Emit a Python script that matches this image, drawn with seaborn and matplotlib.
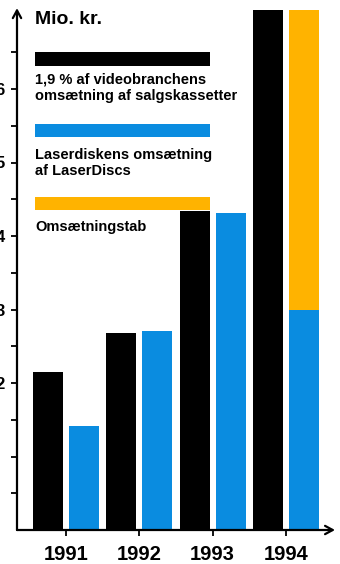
import matplotlib
matplotlib.use("Agg")
import matplotlib.pyplot as plt
import matplotlib.patches as mpatches
import matplotlib.transforms as mtransforms
import numpy as np
import pandas as pd
import seaborn as sns

# data (Mio. kr.)
years = ["1991", "1992", "1993", "1994"]
video_share = [2.15, 2.68, 4.34, 7.5]   # 1994 runs off the top
laserdisc = [1.41, 2.71, 4.31, 2.99]
lost_revenue = [0, 0, 0, 4.5]          # stacked on top of laserdisc, off the top too
labels = [
    "1,9 % af videobranchens\nomsætning af salgskassetter",
    "Laserdiskens omsætning\naf LaserDiscs",
    "Omsætningstab",
]
unit = "Mio. kr."
tick_labels = [2, 3, 4, 5, 6]

BLACK = "#000000"
BLUE = "#0a8ce0"
ORANGE = "#ffb300"
W, H = 340, 564


def get_df(second: list) -> pd.DataFrame:
    return pd.DataFrame({
        "year": years * 2,
        "value": video_share + second,
        "series": ["video"] * len(years) + ["laser"] * len(years),
    })


def main() -> None:
    sns.set_style("white")
    plt.rcParams["font.family"] = ["Liberation Sans", "DejaVu Sans"]
    plt.rcParams["font.weight"] = "bold"
    for k in ["text.color", "axes.labelcolor", "xtick.color", "ytick.color"]:
        plt.rcParams[k] = "black"

    fig = plt.figure(figsize=(W / 100, H / 100), dpi=100)
    ax = fig.add_axes([17 / W, 1 - 530 / H, 318 / W, 520 / H])

    stacked = [a + b for a, b in zip(laserdisc, lost_revenue)]
    bar_kw = dict(x="year", y="value", hue="series", width=0.98, gap=0.16,
                  errorbar=None, saturation=1, legend=False, ax=ax,
                  linewidth=0)
    sns.barplot(data=get_df(stacked), palette=[BLACK, ORANGE], **bar_kw)
    sns.barplot(data=get_df(laserdisc), palette=[BLACK, BLUE], **bar_kw)

    ax.set_xlim(-0.67, 3.67)
    ax.set_ylim(0, 520 / 73.5)
    ax.set_xlabel("")
    ax.set_ylabel("")
    for s in ax.spines.values():
        s.set_visible(False)

    yt = np.arange(0.5, 7.0, 0.5)
    ax.set_yticks(yt)
    ax.set_yticklabels([str(int(v)) if v in tick_labels else "" for v in yt])
    ax.tick_params(axis="y", direction="out", length=4.5, width=1.3,
                   pad=4.5, labelsize=12, left=True)
    ax.tick_params(axis="x", direction="out", length=4, width=1.3,
                   pad=7, labelsize=14.5, bottom=True)
    for t in ax.get_xticklabels() + ax.get_yticklabels():
        t.set_fontweight("bold")

    # axis lines with open arrow heads
    trans = mtransforms.blended_transform_factory(ax.transAxes, ax.transData)
    arrow = dict(arrowstyle="->,head_length=0.55,head_width=0.3", lw=1.6,
                 color="black", shrinkA=0, shrinkB=0)
    ax.annotate("", xy=(0, 7.1), xycoords=trans, xytext=(0, 0),
                textcoords=trans, arrowprops=arrow, annotation_clip=False)
    ax.annotate("", xy=(1, 0), xycoords="axes fraction", xytext=(0, 0),
                textcoords="axes fraction", arrowprops=arrow,
                annotation_clip=False)

    # hand-drawn legend
    fig.text(35 / W, 1 - 20 / H, unit, fontsize=14, fontweight="bold",
             va="center", ha="left")
    for (top, bottom), color in zip([(52, 66), (124, 137), (197, 210)],
                                    [BLACK, BLUE, ORANGE]):
        fig.patches.append(mpatches.Rectangle(
            (35 / W, 1 - bottom / H), 175 / W, (bottom - top) / H,
            transform=fig.transFigure, facecolor=color, edgecolor="none"))
    for y, txt in zip([73, 148, 220], labels):
        fig.text(35 / W, 1 - y / H, txt, fontsize=10.5, fontweight="bold",
                 va="top", ha="left", linespacing=1.2)

    fig.savefig("out.png", dpi=100)


if __name__ == "__main__":
    main()
